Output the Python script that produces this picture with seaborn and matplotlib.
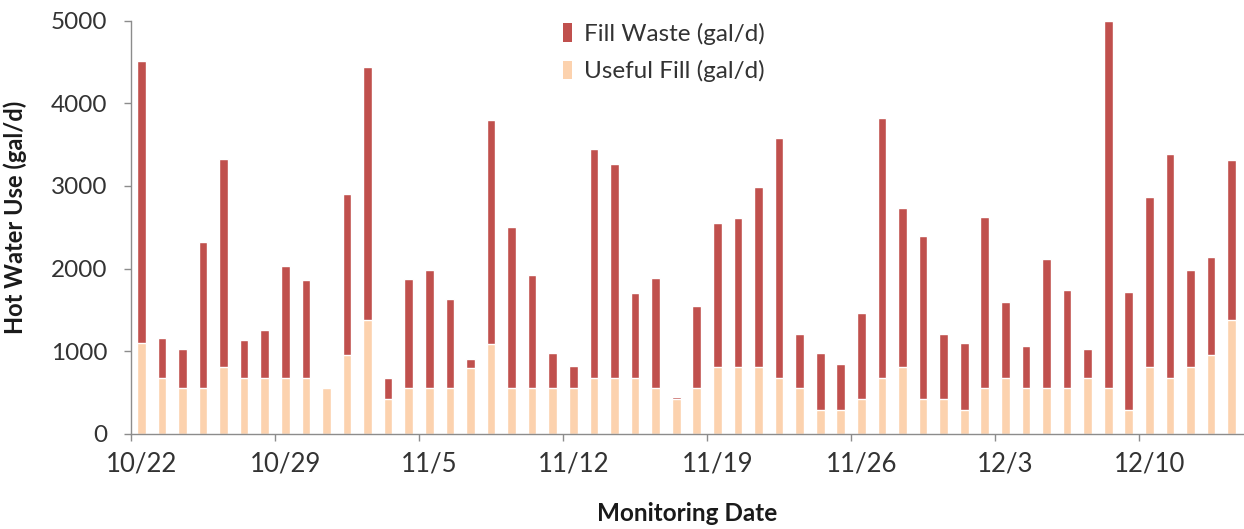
import numpy as np
import pandas as pd
import matplotlib
matplotlib.use("Agg")
import matplotlib.pyplot as plt
import seaborn as sns
from matplotlib.patches import Patch

# Daily monitoring dates (10/22 through 12/14)
dates = pd.date_range("2012-10-22", "2012-12-14", freq="D")
day_labels = [f"{d.month}/{d.day}" for d in dates]

# Useful fill volume per day (gal/d)
useful_fill = [
    1100, 670, 550, 550, 810, 670, 670, 670, 670, 550,
    950, 1370, 420, 550, 550, 550, 800, 1090, 550, 550,
    550, 550, 670, 670, 670, 550, 420, 550, 810, 810,
    810, 670, 550, 280, 280, 420, 670, 810, 420, 420,
    280, 550, 670, 550, 550, 550, 670, 550, 280, 810,
    670, 810, 950, 1370,
]

# Fill waste per day (gal/d)
fill_waste = [
    3420, 490, 480, 1770, 2520, 460, 590, 1360, 1190, 0,
    1950, 3070, 250, 1320, 1430, 1080, 100, 2710, 1950, 1370,
    430, 270, 2780, 2600, 1030, 1340, 25, 990, 1740, 1800,
    2180, 2910, 660, 700, 560, 1040, 3160, 1920, 1970, 790,
    820, 2080, 930, 510, 1570, 1190, 360, 4450, 1440, 2060,
    2720, 1170, 1190, 1940,
]

week_labels = ["10/22", "10/29", "11/5", "11/12", "11/19", "11/26", "12/3", "12/10"]

waste_color = "#C0504D"
useful_color = "#FCD2AE"
axis_color = "#8C8C8C"
text_color = "#333333"

df = pd.DataFrame({
    "day": day_labels,
    "useful": useful_fill,
    "waste": fill_waste,
})
df["total"] = df["useful"] + df["waste"]

sns.set_theme(style="white")
plt.rcParams["font.family"] = ["Lato", "DejaVu Sans"]

fig = plt.figure(figsize=(12.44, 5.29), dpi=100)
ax = fig.add_axes([131 / 1244, 95.5 / 529, 1 - 131 / 1244, 412.5 / 529])

# Stacked bars: full height in the waste colour, useful portion drawn over it
sns.barplot(data=df, x="day", y="total", order=day_labels, color=waste_color,
            saturation=1, width=0.42, ax=ax)
sns.barplot(data=df, x="day", y="useful", order=day_labels, color=useful_color,
            saturation=1, width=0.42, ax=ax)

ax.set_xlim(-0.5, 53.6)
ax.set_ylim(0, 5000)
ax.set_yticks(np.arange(0, 5001, 1000))
ax.tick_params(axis="y", labelsize=17.5, colors=axis_color, labelcolor=text_color,
               direction="out", length=5, width=1, pad=12, left=True)

# Week labels sit under the first bar of each week; marks sit on the week boundary
label_pos = [day_labels.index(w) for w in week_labels]
ax.set_xticks(label_pos)
ax.set_xticklabels(week_labels)
ax.set_xticks([p - 0.5 for p in label_pos], minor=True)
ax.tick_params(axis="x", which="major", length=0, labelsize=18.5, labelcolor=text_color, pad=13)
ax.tick_params(axis="x", which="minor", length=5, width=1, color=axis_color,
               direction="out", bottom=True)

for side in ["top", "right"]:
    ax.spines[side].set_visible(False)
for side in ["left", "bottom"]:
    ax.spines[side].set_color(axis_color)
    ax.spines[side].set_linewidth(1)

ax.set_ylabel("Hot Water Use (gal/d)", fontsize=17, fontweight="bold", color="#1a1a1a")
ax.yaxis.set_label_coords(-0.093, 0.525)
ax.set_xlabel("Monitoring Date", fontsize=17.5, fontweight="bold", color="#1a1a1a")
ax.xaxis.set_label_coords(0.5, -0.165)

handles = [Patch(facecolor=waste_color, edgecolor="none", label="Fill Waste (gal/d)"),
           Patch(facecolor=useful_color, edgecolor="none", label="Useful Fill (gal/d)")]
fig.legend(handles=handles, loc="upper left", bbox_to_anchor=(563 / 1244, 1 - 23 / 529),
           frameon=False, fontsize=17.5, handlelength=0.35, handleheight=0.8,
           handletextpad=0.5, labelspacing=0.62, labelcolor=text_color,
           borderaxespad=0, borderpad=0)

fig.savefig("out.png", dpi=100, facecolor="white")
